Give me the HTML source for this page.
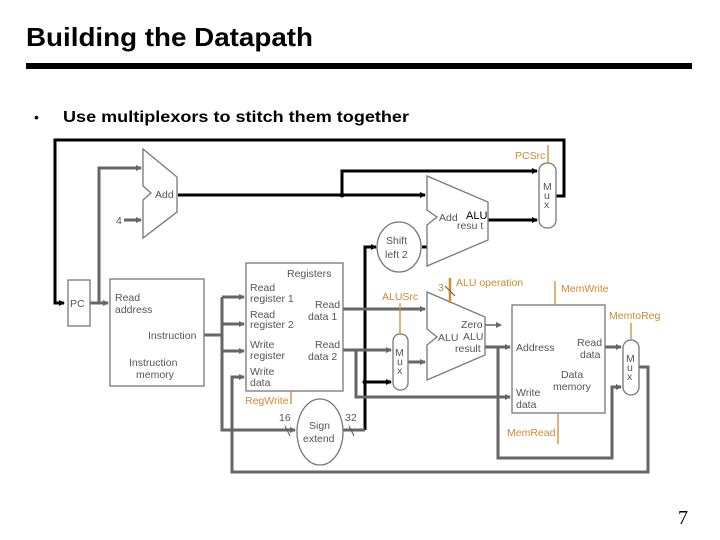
<!DOCTYPE html>
<html><head><style>
body{margin:0;background:#fff;}
svg{display:block;font-family:"Liberation Sans",Arial,sans-serif;}
.g{stroke:#666;stroke-width:3;fill:none}
.k{stroke:#000;stroke-width:3;fill:none}
.b{stroke:#777;stroke-width:1.3;fill:#fff}
.t{font-size:10.5px;fill:#555}
.o{font-size:10.5px;fill:#d08a30}
.ol{stroke:#d08a30;stroke-width:1.3}
</style></head><body>
<svg width="720" height="540" viewBox="0 0 720 540">
<defs>
<marker id="ag" markerWidth="6" markerHeight="6" refX="5" refY="3" orient="auto" markerUnits="userSpaceOnUse"><path d="M0,0 L6,3 L0,6z" fill="#666"/></marker>
<marker id="ak" markerWidth="6" markerHeight="6" refX="5" refY="3" orient="auto" markerUnits="userSpaceOnUse"><path d="M0,0 L6,3 L0,6z" fill="#000"/></marker>
</defs>
<text x="26" y="46" font-size="26" font-weight="bold" textLength="287" lengthAdjust="spacingAndGlyphs">Building the Datapath</text>
<rect x="26" y="63" width="666" height="6" fill="#000"/>
<text x="34" y="122" font-size="14">•</text>
<text x="63" y="122" font-size="16" font-weight="bold" textLength="346" lengthAdjust="spacingAndGlyphs">Use multiplexors to stitch them together</text>

<!-- black wires -->
<path class="k" d="M556,196 H564 V140 H55 V303 H64" marker-end="url(#ak)"/>
<path class="k" d="M178,195 H425" marker-end="url(#ak)"/>
<path class="k" d="M342,195 V171 H537" marker-end="url(#ak)"/>
<path class="k" d="M488,220 H537" marker-end="url(#ak)"/>
<path class="k" d="M365,430 V247 H376" marker-end="url(#ak)"/>
<path class="k" d="M422,247 H427"/>
<path class="k" d="M365,382 H391" marker-end="url(#ak)"/>
<circle cx="342" cy="195" r="2.5"/><circle cx="365" cy="382" r="2.5"/>

<!-- gray wires -->
<path class="g" d="M90,303 H108" marker-end="url(#ag)"/>
<path class="g" d="M99,303 V168 H141" marker-end="url(#ag)"/>
<path class="g" d="M124,220 H141" marker-end="url(#ag)"/>
<path class="g" d="M204,335 H222"/>
<path class="g" d="M222,297 V430 H295" marker-end="url(#ag)"/>
<path class="g" d="M222,297 H244" marker-end="url(#ag)"/>
<path class="g" d="M222,324 H244" marker-end="url(#ag)"/>
<path class="g" d="M222,351 H244" marker-end="url(#ag)"/>
<path class="g" d="M343,430 H365"/>
<path class="g" d="M343,309 H425" marker-end="url(#ag)"/>
<path class="g" d="M343,350 H391" marker-end="url(#ag)"/>
<path class="g" d="M356,350 V397 H510" marker-end="url(#ag)"/>
<path class="g" d="M408,362 H425" marker-end="url(#ag)"/>
<path class="g" d="M485,325 H501" style="stroke-width:1.5" marker-end="url(#ag)"/>
<path class="g" d="M485,347 H510" marker-end="url(#ag)"/>
<path class="g" d="M498,347 V458 H612 V387 H621" marker-end="url(#ag)"/>
<path class="g" d="M605,347 H621" marker-end="url(#ag)"/>
<path class="g" d="M638,367 H648 V472 H232 V377 H244" marker-end="url(#ag)"/>

<!-- PC -->
<rect class="b" x="68" y="280" width="22" height="46"/>
<text class="t" x="70" y="307" font-size="11">PC</text>
<!-- Add (PC+4) -->
<path class="b" d="M143,149 L177,177 V212 L143,238 V200 L151,193 L143,186 Z"/>
<text class="t" x="155" y="198">Add</text>
<text class="t" x="116" y="224">4</text>
<!-- Instruction memory -->
<rect class="b" x="110" y="279" width="94" height="107"/>
<text class="t" x="115" y="301">Read</text><text class="t" x="115" y="313">address</text>
<text class="t" x="148" y="339">Instruction</text>
<text class="t" x="129" y="366">Instruction</text><text class="t" x="136" y="378">memory</text>
<!-- Registers -->
<rect class="b" x="246" y="263" width="97" height="128"/>
<text class="t" x="287" y="277">Registers</text>
<text class="t" x="250" y="291">Read</text><text class="t" x="250" y="302">register 1</text>
<text class="t" x="250" y="318">Read</text><text class="t" x="250" y="328">register 2</text>
<text class="t" x="250" y="348">Write</text><text class="t" x="250" y="359">register</text>
<text class="t" x="250" y="375">Write</text><text class="t" x="250" y="386">data</text>
<text class="t" x="315" y="308">Read</text><text class="t" x="308" y="320">data 1</text>
<text class="t" x="315" y="348">Read</text><text class="t" x="308" y="360">data 2</text>
<text class="o" x="245" y="404">RegWrite</text>
<line class="ol" x1="291" y1="391" x2="291" y2="404"/>
<!-- sign extend -->
<ellipse class="b" cx="320" cy="432" rx="23" ry="33"/>
<text class="t" x="309" y="429">Sign</text><text class="t" x="303" y="442">extend</text>
<text class="t" x="279" y="421">16</text><text class="t" x="345" y="421">32</text>
<line x1="285" y1="426" x2="290" y2="436" stroke="#555"/>
<line x1="349" y1="426" x2="354" y2="436" stroke="#555"/>
<!-- shift left 2 -->
<ellipse class="b" cx="399" cy="247" rx="22" ry="25"/>
<text class="t" x="386" y="244">Shift</text><text class="t" x="385" y="258">left 2</text>
<!-- Branch adder -->
<path class="b" d="M427,176 L488,202 V240 L427,266 V225 L437,217 L427,210 Z"/>
<text class="t" x="439" y="221" fill="#000">Add</text>
<text x="466" y="219" font-size="11" fill="#000">ALU</text>
<text class="t" x="457" y="229" fill="#000">resu t</text>
<!-- PC mux -->
<rect class="b" x="539" y="163" width="17" height="65" rx="8"/>
<text class="t" x="543" y="190">M</text><text class="t" x="544" y="199">u</text><text class="t" x="544" y="208">x</text>
<text class="o" x="515" y="159">PCSrc</text>
<line class="ol" x1="548" y1="145" x2="548" y2="163"/>
<!-- ALUSrc mux -->
<rect class="b" x="393" y="334" width="15" height="56" rx="7"/>
<text class="t" x="395" y="356">M</text><text class="t" x="397" y="365">u</text><text class="t" x="397" y="374">x</text>
<text class="o" x="382" y="300">ALUSrc</text>
<line class="ol" x1="400" y1="303" x2="400" y2="334"/>
<!-- ALU -->
<path class="b" d="M427,292 L485,317 V355 L427,380 V345 L437,337 L427,329 Z"/>
<text class="t" x="461" y="328">Zero</text>
<text class="t" x="438" y="341">ALU</text><text class="t" x="463" y="340">ALU</text>
<text class="t" x="455" y="352">result</text>
<text class="o" x="438" y="291">3</text>
<text class="o" x="456" y="286">ALU operation</text>
<line x1="450" y1="278" x2="450" y2="303" stroke="#d08a30" stroke-width="2.5"/>
<line x1="445" y1="286" x2="455" y2="296" stroke="#555"/>
<!-- Data memory -->
<rect class="b" x="512" y="305" width="93" height="108"/>
<text class="t" x="516" y="351">Address</text>
<text class="t" x="577" y="346">Read</text><text class="t" x="580" y="358">data</text>
<text class="t" x="561" y="378">Data</text><text class="t" x="553" y="390">memory</text>
<text class="t" x="516" y="396">Write</text><text class="t" x="516" y="408">data</text>
<text class="o" x="561" y="292">MemWrite</text>
<line class="ol" x1="555" y1="281" x2="555" y2="305"/>
<text class="o" x="507" y="436">MemRead</text>
<line class="ol" x1="558" y1="413" x2="558" y2="444"/>
<!-- MemtoReg mux -->
<rect class="b" x="623" y="340" width="16" height="55" rx="8"/>
<text class="t" x="626" y="362">M</text><text class="t" x="627" y="371">u</text><text class="t" x="627" y="380">x</text>
<text class="o" x="609" y="319">MemtoReg</text>
<line class="ol" x1="631" y1="323" x2="631" y2="340"/>

<text x="678" y="524" font-size="20" font-family="Liberation Serif,serif">7</text>
</svg>
</body></html>
